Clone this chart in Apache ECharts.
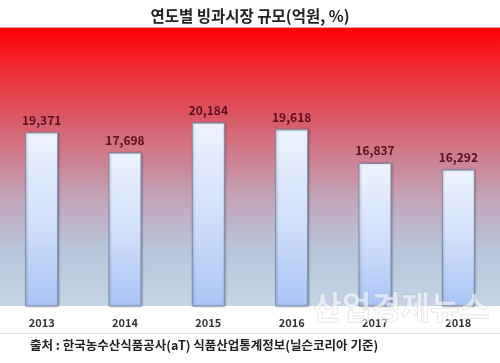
<!DOCTYPE html>
<html><head><meta charset="utf-8">
<script src="https://cdn.jsdelivr.net/npm/echarts@6/dist/echarts.min.js"></script>
<style>html,body{margin:0;padding:0;background:#fff}#c{width:500px;height:363px}</style>
</head><body><div id="c"></div>
<script>
const title = '연도별 빙과시장 규모(억원, %)';
const source = '출처 : 한국농수산식품공사(aT) 식품산업통계정보(닐슨코리아 기준)';
const years = ['2013', '2014', '2015', '2016', '2017', '2018'];
const sales = [19371, 17698, 20184, 19618, 16837, 16292];

const chart = echarts.init(document.getElementById('c'));
const font = '"Noto Sans CJK KR", "Noto Sans", sans-serif';
chart.setOption({
  animation: false,
  title: {
    text: title, left: 'center', top: 3,
    textStyle: {fontFamily: font, fontSize: 15.5, fontWeight: 'bold', color: '#222'}
  },
  graphic: [
    {type: 'rect', z: -10, shape: {x: 0, y: 27, width: 500, height: 1.5}, style: {fill: '#f0a0a0'}},
    {type: 'rect', z: -10, shape: {x: 0, y: 28, width: 500, height: 278},
      style: {fill: new echarts.graphic.LinearGradient(0, 0, 0, 1, [
        {offset: 0, color: '#ff0000'},
        {offset: 0.15, color: '#ef2c34'},
        {offset: 0.35, color: '#d8606e'},
        {offset: 0.6, color: '#c4a2b6'},
        {offset: 0.8, color: '#b8c6da'},
        {offset: 1, color: '#c6d4e4'}
      ])}},
    {type: 'rect', z: -5, shape: {x: 0, y: 333, width: 500, height: 1}, style: {fill: '#e0e0e0'}},
    {type: 'text', z: 50, left: 312, top: 290,
      style: {text: '산업경제뉴스', font: 'bold 32px "Noto Sans CJK KR"', fill: 'rgba(255,255,255,0.55)',
        stroke: 'rgba(160,160,160,0.35)', lineWidth: 1}},
    {type: 'text', left: 30, top: 339,
      style: {text: source, font: 'bold 12.5px "Noto Sans CJK KR"', fill: '#222'}}
  ],
  grid: {left: -4, width: 506, top: 28, bottom: 57, containLabel: false},
  xAxis: {
    type: 'category', data: years,
    axisLine: {show: false}, axisTick: {show: false},
    axisLabel: {fontFamily: font, fontSize: 11, fontWeight: 'bold', color: '#333', margin: 11}
  },
  yAxis: {
    type: 'value', min: 5000, max: 28000, show: false, splitLine: {show: false}
  },
  series: [{
    type: 'bar', data: sales, barWidth: 33,
    itemStyle: {
      color: new echarts.graphic.LinearGradient(0, 0, 0, 1, [
        {offset: 0, color: '#eef3fd'},
        {offset: 0.5, color: '#d2e0fa'},
        {offset: 1, color: '#aac4f6'}
      ]),
      borderColor: '#7d8ca6', borderWidth: 1,
      shadowColor: 'rgba(60,60,90,0.35)', shadowBlur: 2, shadowOffsetX: 1
    },
    label: {
      show: true, position: 'top', distance: 6,
      formatter: p => p.value.toLocaleString('en-US'),
      fontFamily: font, fontSize: 12, fontWeight: 'bold', color: '#5a1020'
    }
  }]
});
</script></body></html>
